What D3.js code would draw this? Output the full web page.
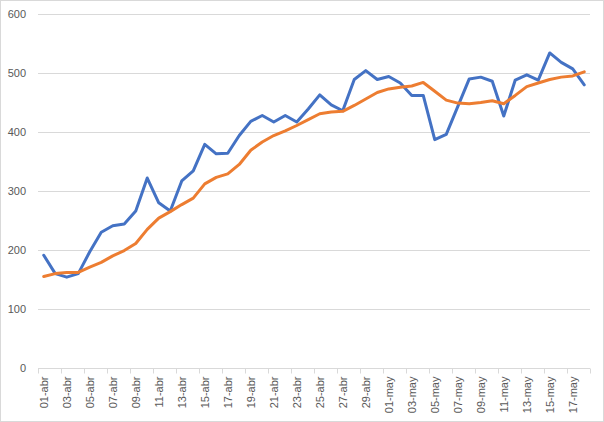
<!DOCTYPE html>
<html><head><meta charset="utf-8">
<script src="https://cdn.jsdelivr.net/npm/d3@7"></script>
<style>body{margin:0;background:#fff}svg{display:block}text{font-family:"Liberation Sans",Arial,sans-serif}</style>
</head><body>
<script>
const days = [
"01-abr","02-abr","03-abr","04-abr","05-abr","06-abr","07-abr","08-abr","09-abr","10-abr",
"11-abr","12-abr","13-abr","14-abr","15-abr","16-abr","17-abr","18-abr","19-abr","20-abr",
"21-abr","22-abr","23-abr","24-abr","25-abr","26-abr","27-abr","28-abr","29-abr","30-abr",
"01-may","02-may","03-may","04-may","05-may","06-may","07-may","08-may","09-may","10-may",
"11-may","12-may","13-may","14-may","15-may","16-may","17-may","18-may"];
const daily = [191,160,154,160,197,230,241,244,266,322,
280,266,317,334,379,363,364,394,418,428,
417,428,417,439,463,446,436,489,504,489,
494,483,462,462,387,396,443,490,493,486,
427,488,497,488,534,518,507,480];
const average = [155,160,162,162,171,179,190,199,211,235,
254,265,277,288,312,323,329,345,369,383,
394,402,411,421,431,434,435,445,456,467,
473,476,478,484,469,454,449,448,450,453,
448,462,477,483,489,493,495,502];
const yTicks = [0,100,200,300,400,500,600];

const W=604,H=422;
const m={l:38,r:14,t:14,b:54};
const svg=d3.select("body").append("svg").attr("width",W).attr("height",H);
svg.append("rect").attr("x",0.5).attr("y",0.5).attr("width",W-1).attr("height",H-1)
  .attr("fill","#fff").attr("stroke","#d9d9d9");

const x=d3.scaleBand().domain(days).range([m.l,W-m.r]);
const y=d3.scaleLinear().domain([0,600]).range([H-m.b,m.t]);

svg.append("g").selectAll("line").data(yTicks.filter(d=>d>0)).join("line")
  .attr("x1",m.l).attr("x2",W-m.r).attr("y1",d=>Math.round(y(d))+0.5).attr("y2",d=>Math.round(y(d))+0.5)
  .attr("stroke","#d9d9d9").attr("stroke-width",1);

svg.append("g").selectAll("text").data(yTicks).join("text")
  .attr("x",26).attr("y",d=>y(d)).attr("dy","0.35em").attr("text-anchor","end")
  .attr("font-size",11).attr("fill","#595959").text(d=>d);

const y0=Math.round(y(0))+0.5;
svg.append("line").attr("x1",m.l).attr("x2",W-m.r).attr("y1",y0).attr("y2",y0).attr("stroke","#d9d9d9");
const tickIdx=days.map((d,i)=>i).filter(i=>i%2===0);
svg.append("g").selectAll("line").data(tickIdx.concat([days.length])).join("line")
  .attr("x1",i=>Math.round(m.l+x.step()*i)+0.5).attr("x2",i=>Math.round(m.l+x.step()*i)+0.5)
  .attr("y1",y0).attr("y2",y0+5).attr("stroke","#d9d9d9");

svg.append("g").selectAll("text").data(tickIdx).join("text")
  .attr("transform",i=>`translate(${x(days[i])+x.bandwidth()/2},${y0+8}) rotate(-90)`)
  .attr("dy","0.35em").attr("text-anchor","end").attr("font-size",11).attr("fill","#595959")
  .text(i=>days[i]);

const line=d3.line().x((d,i)=>x(days[i])+x.bandwidth()/2).y(d=>y(d));
svg.append("path").datum(daily).attr("d",line).attr("fill","none")
  .attr("stroke","#4472C4").attr("stroke-width",3).attr("stroke-linejoin","round").attr("stroke-linecap","round");
svg.append("path").datum(average).attr("d",line).attr("fill","none")
  .attr("stroke","#ED7D31").attr("stroke-width",3).attr("stroke-linejoin","round").attr("stroke-linecap","round");
</script>
</body></html>
